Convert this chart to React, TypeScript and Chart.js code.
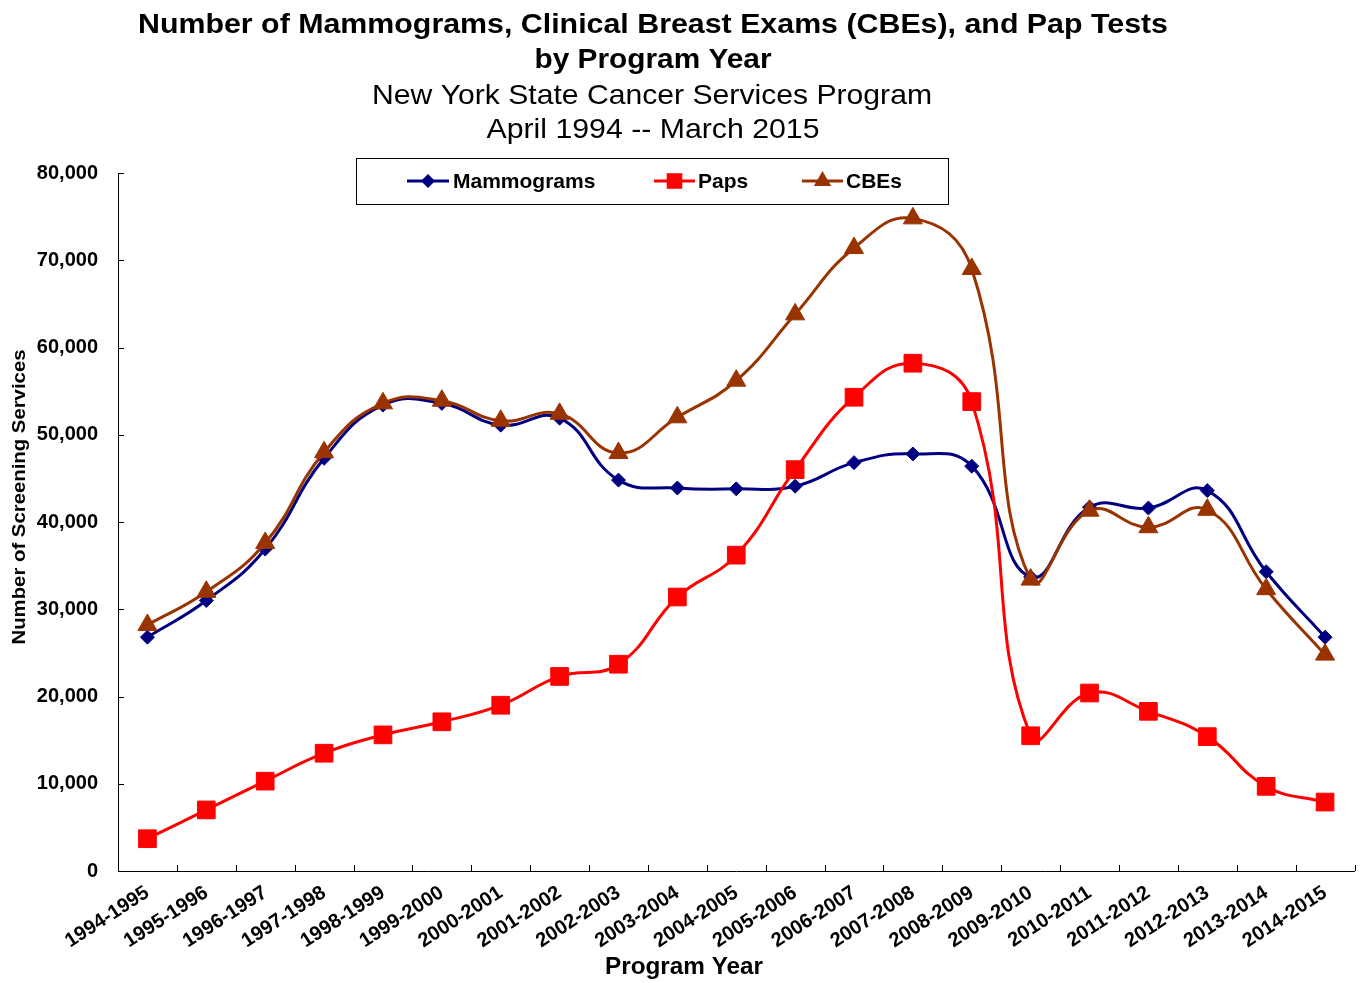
import React, { useEffect, useRef } from "react";
import { Chart, registerables } from "chart.js";

Chart.register(...registerables);

const categories = [
  "1994-1995", "1995-1996", "1996-1997", "1997-1998", "1998-1999", "1999-2000",
  "2000-2001", "2001-2002", "2002-2003", "2003-2004", "2004-2005", "2005-2006",
  "2006-2007", "2007-2008", "2008-2009", "2009-2010", "2010-2011", "2011-2012",
  "2012-2013", "2013-2014", "2014-2015",
];

const mammograms = [
  26800, 31000, 36900, 47300, 53400, 53600, 51100, 51900, 44800, 43900, 43800,
  44100, 46800, 47800, 46400, 33700, 41700, 41600, 43600, 34300, 26800,
];

const paps = [
  3700, 7000, 10300, 13500, 15600, 17100, 19000, 22300, 23700, 31400, 36200,
  46000, 54300, 58200, 53800, 15500, 20400, 18300, 15400, 9700, 7900,
];

const cbes = [
  28200, 32000, 37600, 48000, 53600, 53900, 51600, 52400, 47900, 52000, 56200,
  63800, 71400, 74800, 69000, 33400, 41300, 39400, 41400, 32300, 24800,
];

const yTicks = [0, 10000, 20000, 30000, 40000, 50000, 60000, 70000, 80000];

const titleLines = [
  "Number of Mammograms, Clinical Breast Exams (CBEs), and Pap Tests",
  "by Program Year",
  "New York State Cancer Services Program",
  "April 1994 -- March 2015",
];

const seriesNames = ["Mammograms", "Paps", "CBEs"];
const seriesColors = ["#000080", "#FF0000", "#993300"];
const seriesStyles = ["rectRot", "rect", "triangle"];
const seriesRadius = [7, 12.5, 11];

const FONT = "'Liberation Sans', Arial, Helvetica, sans-serif";

function fitText(ctx, text, cx, cy, font, width, rot = 0) {
  ctx.save();
  ctx.font = font;
  const m = ctx.measureText(text).width;
  ctx.translate(cx, cy);
  ctx.rotate(rot);
  ctx.scale(width / m, 1);
  ctx.textAlign = "center";
  ctx.textBaseline = "middle";
  ctx.fillStyle = "#000";
  ctx.fillText(text, 0, 0);
  ctx.restore();
}

function drawMarker(ctx, style, r, x, y) {
  ctx.beginPath();
  if (style === "rectRot") {
    ctx.moveTo(x - r, y);
    ctx.lineTo(x, y - r);
    ctx.lineTo(x + r, y);
    ctx.lineTo(x, y + r);
  } else if (style === "rect") {
    const s = r * Math.SQRT1_2;
    ctx.rect(x - s, y - s, 2 * s, 2 * s);
  } else {
    const h = r;
    ctx.moveTo(x, y - h);
    ctx.lineTo(x + h * Math.sin((2 * Math.PI) / 3), y - h * Math.cos((2 * Math.PI) / 3));
    ctx.lineTo(x + h * Math.sin((4 * Math.PI) / 3), y - h * Math.cos((4 * Math.PI) / 3));
  }
  ctx.closePath();
  ctx.fill();
}

const decorPlugin = {
  id: "decor",
  afterDraw(chart) {
    const ctx = chart.ctx;
    const xs = chart.scales.x;
    const ys = chart.scales.y;
    const area = chart.chartArea;
    // inward tick marks
    ctx.save();
    ctx.strokeStyle = "#000";
    ctx.lineWidth = 1;
    ctx.beginPath();
    yTicks.forEach((v) => {
      const py = Math.round(ys.getPixelForValue(v)) + 0.5;
      ctx.moveTo(area.left, py);
      ctx.lineTo(area.left + 6, py);
    });
    for (let i = 0; i <= categories.length; i++) {
      const px = Math.round(xs.getPixelForValue(i - 0.5)) + 0.5;
      ctx.moveTo(px, area.bottom);
      ctx.lineTo(px, area.bottom - 6);
    }
    ctx.stroke();
    ctx.restore();

    // titles
    fitText(ctx, titleLines[0], 653, 25, `bold 28px ${FONT}`, 1030);
    fitText(ctx, titleLines[1], 653, 60, `bold 28px ${FONT}`, 237);
    fitText(ctx, titleLines[2], 652, 96, `28px ${FONT}`, 560);
    fitText(ctx, titleLines[3], 653, 130, `28px ${FONT}`, 333);

    // axis titles
    fitText(ctx, "Program Year", 684, 967, `bold 24px ${FONT}`, 158);
    fitText(ctx, "Number of Screening Services", 20, 497, `bold 18px ${FONT}`, 295, -Math.PI / 2);

    // legend
    ctx.save();
    ctx.fillStyle = "#fff";
    ctx.fillRect(356, 158, 592, 46);
    ctx.strokeStyle = "#000";
    ctx.lineWidth = 1;
    ctx.strokeRect(356.5, 158.5, 592, 46);
    const items = [
      { x0: 407, x1: 449, tx: 453 },
      { x0: 654, x1: 695, tx: 698 },
      { x0: 802, x1: 843, tx: 846 },
    ];
    const ly = 181;
    items.forEach((it, i) => {
      ctx.strokeStyle = seriesColors[i];
      ctx.lineWidth = 3;
      ctx.beginPath();
      ctx.moveTo(it.x0, ly);
      ctx.lineTo(it.x1, ly);
      ctx.stroke();
      ctx.fillStyle = seriesColors[i];
      const r = i === 0 ? 7 : i === 1 ? 11 : 10;
      drawMarker(ctx, seriesStyles[i], r, (it.x0 + it.x1) / 2, ly);
      ctx.fillStyle = "#000";
      ctx.font = `bold 21px ${FONT}`;
      ctx.textAlign = "left";
      ctx.textBaseline = "middle";
      ctx.fillText(seriesNames[i], it.tx, ly + 1);
    });
    ctx.restore();
  },
};

const CANVAS_W = 1368;
const CANVAS_H = 983;

export default function App() {
  const ref = useRef(null);
  useEffect(() => {
    const seriesData = [mammograms, paps, cbes];
    const chart = new Chart(ref.current, {
      type: "line",
      data: {
        labels: categories,
        datasets: seriesData.map((d, i) => ({
          label: seriesNames[i],
          data: d,
          borderColor: seriesColors[i],
          backgroundColor: seriesColors[i],
          pointBackgroundColor: seriesColors[i],
          pointBorderColor: seriesColors[i],
          pointBorderWidth: 1,
          pointStyle: seriesStyles[i],
          pointRadius: seriesRadius[i],
          pointHoverRadius: seriesRadius[i],
          borderWidth: 3,
          tension: 0.45,
          fill: false,
          order: 3 - i,
          clip: false,
        })),
      },
      options: {
        responsive: false,
        animation: false,
        layout: { padding: { top: 173, right: 0, left: 0, bottom: 0 } },
        plugins: {
          legend: { display: false },
          title: { display: false },
          tooltip: { enabled: false },
        },
        scales: {
          x: {
            type: "category",
            offset: true,
            grid: { display: false, drawTicks: false, offset: true },
            border: { display: true, color: "#000", width: 1 },
            ticks: {
              autoSkip: false,
              minRotation: 33,
              maxRotation: 33,
              color: "#000",
              padding: 10,
              font: { family: FONT, weight: "bold", size: 20 },
            },
            afterFit(scale) {
              scale.height = 112;
              scale.paddingLeft = 0;
              scale.paddingRight = 0;
            },
          },
          y: {
            min: 0,
            max: 80000,
            grid: { display: false, drawTicks: false },
            border: { display: true, color: "#000", width: 1 },
            afterBuildTicks(scale) {
              scale.ticks = yTicks.map((v) => ({ value: v }));
            },
            ticks: {
              color: "#000",
              padding: 20,
              font: { family: FONT, weight: "bold", size: 20 },
              callback: (v) => Number(v).toLocaleString("en-US"),
            },
            afterFit(scale) {
              scale.width = 118;
              scale.paddingTop = 0;
              scale.paddingBottom = 0;
            },
          },
        },
      },
      plugins: [decorPlugin],
    });
    return () => chart.destroy();
  }, []);
  return (
    <div style={{ position: "fixed", left: 0, top: 0, width: 1361, height: 983, overflow: "hidden", background: "#fff" }}>
      <canvas ref={ref} width={CANVAS_W} height={CANVAS_H} style={{ display: "block" }} />
    </div>
  );
}
